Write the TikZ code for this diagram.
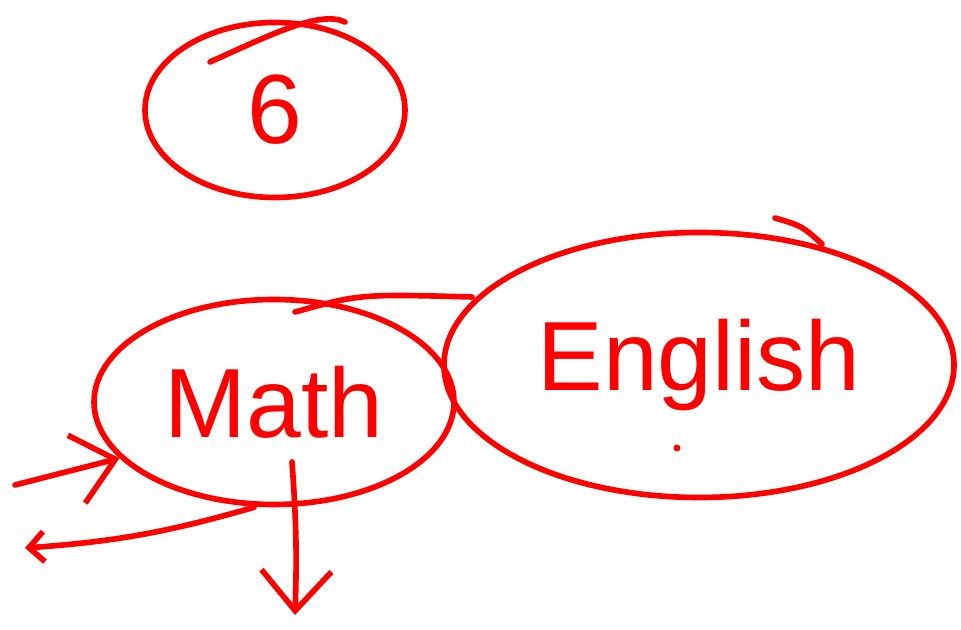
\documentclass[tikz,border=0pt]{standalone}
\usepackage{fontspec}
\setmainfont{Liberation Sans}
\usetikzlibrary{arrows.meta,positioning,shapes.geometric}
\definecolor{inkred}{rgb}{1,0,0}

\begin{document}
\begin{tikzpicture}[
      blob/.style={draw=inkred, ellipse, line width=1.6pt, inner sep=0pt,
                   text=inkred, font=\fontsize{28}{32}\selectfont},
      arr/.style={-{Straight Barb[length=4mm,width=7mm]}, line width=1.6pt,
                  color=inkred, line cap=round},
      hand/.style={line width=1.6pt, color=inkred, line cap=round}
  ]
    \useasboundingbox (0,0) rectangle (9.61,6.30);
    \node[blob, minimum width=2.6cm, minimum height=1.75cm] (six) at (2.75,5.2) {6};
    \node[blob, minimum width=3.6cm, minimum height=2.05cm] (math) at (2.74,2.28) {Math};
    \node[blob, minimum width=5.1cm, minimum height=2.65cm] (eng) at (6.99,2.65) {English};
    \coordinate (inL) at (0.15,1.45);
    \coordinate (outL) at (0.25,0.82);
    \coordinate (outD) at (2.95,0.15);
    \draw[arr] (inL) -- (math.200);
    \draw[arr, -{Straight Barb[length=1.5mm,width=3mm]}] ([xshift=-2mm]math.south)
        to[bend left=6] (outL);
    \draw[arr] ([xshift=1.8mm,yshift=-6mm]math.center) to[bend left=3] (outD);
    % extra pen strokes
    \draw[hand] (2.1,5.68) .. controls (2.7,5.95) and (3.2,6.2) .. (3.45,6.08);
    \draw[hand] (2.95,3.18) .. controls (3.6,3.36) .. (4.72,3.33);
    \draw[hand] (7.75,4.12) .. controls (8.02,4.04) .. (8.22,3.86);
    \fill[inkred] (6.77,1.82) circle (1pt);
  \end{tikzpicture}
\end{document}
